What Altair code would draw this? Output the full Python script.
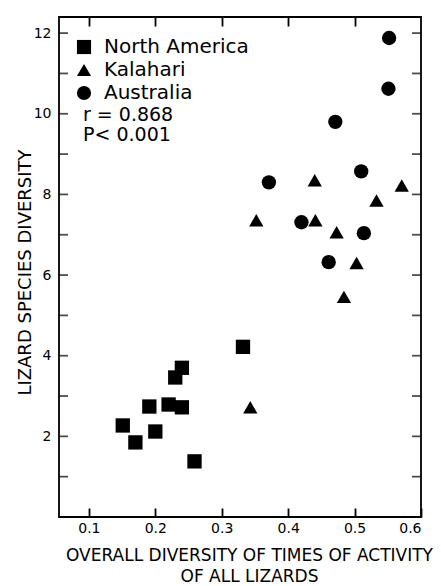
import altair as alt
import pandas as pd

# ---- data ----
na_x = [0.151, 0.170, 0.200, 0.191, 0.220, 0.240, 0.259, 0.230, 0.240, 0.332]
na_y = [2.27, 1.85, 2.12, 2.74, 2.79, 2.72, 1.38, 3.46, 3.70, 4.22]
ka_x = [0.343, 0.352, 0.440, 0.441, 0.473, 0.484, 0.503, 0.533, 0.571]
ka_y = [2.72, 7.36, 8.35, 7.36, 7.06, 5.46, 6.30, 7.85, 8.22]
au_x = [0.371, 0.420, 0.461, 0.471, 0.510, 0.514, 0.551, 0.552]
au_y = [8.30, 7.31, 6.32, 9.80, 8.57, 7.04, 10.62, 11.88]
regions = ["North America", "Kalahari", "Australia"]
shapes = ["square", "triangle-up", "circle"]

x_ticks = [0.1, 0.2, 0.3, 0.4, 0.5, 0.6]
y_major = [2, 4, 6, 8, 10, 12]
y_minor = [1, 3, 5, 7, 9, 11]
stats = ["r = 0.868", "P< 0.001"]

FONT = "DejaVu Sans"
W, H = 362, 500
TL = 9
TW = 1.8

rows = []
for name, xs, ys in [(regions[0], na_x, na_y), (regions[1], ka_x, ka_y), (regions[2], au_x, au_y)]:
    for a, b in zip(xs, ys):
        rows.append({"region": name, "x": a, "y": b})
df = pd.DataFrame(rows)

xscale = alt.Scale(domain=[0.055, 0.6], nice=False, zero=False)
yscale = alt.Scale(domain=[0, 12.4], nice=False, zero=False)

# bottom axis pulled inward by TL so its ticks point into the plot
xaxis = alt.Axis(values=x_ticks, format=".1f", ticks=True, tickSize=TL, tickWidth=TW,
                 tickColor="black", offset=-TL, domain=False, grid=False,
                 labelFont=FONT, labelFontSize=14, labelColor="black", labelPadding=4,
                 title=["OVERALL DIVERSITY OF TIMES OF ACTIVITY", "OF ALL LIZARDS"],
                 titleFont=FONT, titleFontSize=17, titleFontWeight="normal",
                 titleColor="black", titleLineHeight=21, titleX=190, titleY=30 + TL,
                 titleBaseline="top", titleAlign="center")
xaxis_top = alt.Axis(values=x_ticks[:-1], orient="top", ticks=True, tickSize=TL, tickWidth=TW,
                     tickColor="black", offset=-TL, domain=False, grid=False, labels=False,
                     title=None)
yaxis = alt.Axis(values=y_major, ticks=False, domain=False, grid=False,
                 labelFont=FONT, labelFontSize=14, labelColor="black", labelPadding=8,
                 title="LIZARD SPECIES DIVERSITY", titleFont=FONT, titleFontSize=18,
                 titleFontWeight="normal", titleColor="black", titleAngle=270,
                 titleX=-34, titleY=255, titleAlign="center", titleBaseline="middle")

points = alt.Chart(df).mark_point(filled=True, size=205, opacity=1, color="black").encode(
    x=alt.X("x:Q", scale=xscale, axis=xaxis),
    y=alt.Y("y:Q", scale=yscale, axis=yaxis),
    shape=alt.Shape("region:N", scale=alt.Scale(domain=regions, range=shapes),
                    legend=alt.Legend(title=None, orient="none", legendX=15, legendY=20,
                                      labelFont=FONT, labelFontSize=20, labelColor="black",
                                      symbolSize=200, symbolFillColor="black",
                                      symbolStrokeColor="black", symbolStrokeWidth=0,
                                      rowPadding=3, labelOffset=10)),
)

# invisible layer that carries the top tick axis
top_axis_layer = alt.Chart(df).mark_point(opacity=0).encode(
    x=alt.X("x:Q", scale=xscale, axis=xaxis_top),
    y=alt.Y("y:Q", scale=yscale, axis=yaxis),
)

yt = pd.DataFrame({"y": y_major + y_minor})

def ytick(xpix):
    return alt.Chart(yt).mark_tick(color="black", thickness=TW, size=TL, orient="horizontal").encode(
        y=alt.Y("y:Q", scale=yscale, axis=yaxis), x=alt.value(xpix))

def stat_layer(i, ypix):
    d = pd.DataFrame({"t": [stats[i]]})
    return alt.Chart(d).mark_text(align="left", baseline="middle", font=FONT, fontSize=19,
                                  color="black").encode(
        text="t:N", x=alt.value(24), y=alt.value(ypix))

chart = alt.layer(
    points, top_axis_layer,
    ytick(TL / 2), ytick(W - TL / 2),
    stat_layer(0, 98), stat_layer(1, 118),
).resolve_axis(x="independent").properties(
    width=W, height=H,
    autosize=alt.AutoSizeParams(type="none"),
    padding={"left": 59, "top": 17, "right": 20, "bottom": 69},
    background="white",
).configure_view(stroke="black", strokeWidth=1.8)

chart.save("out.html", embed_options={"renderer": "svg", "actions": False})
